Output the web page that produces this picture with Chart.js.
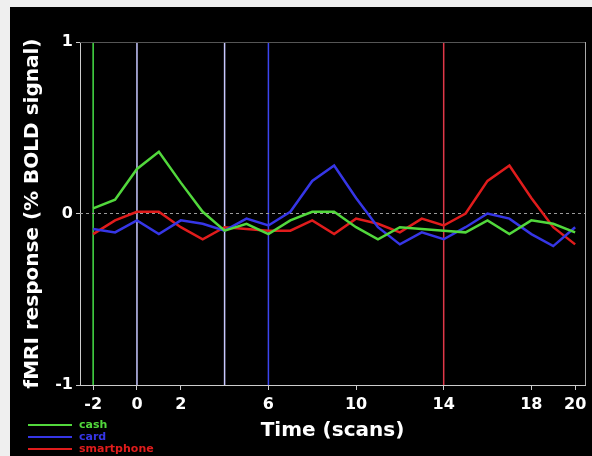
<!DOCTYPE html>
<html>
<head>
<meta charset="utf-8">
<script src="https://cdn.jsdelivr.net/npm/chart.js@4"></script>
<style>
  html, body { margin:0; padding:0; background:#efefef; }
  #wrap { position:absolute; left:10px; top:7px; width:582px; height:449px; background:#000; }
</style>
</head>
<body>
<div id="wrap"><canvas id="fmri" width="582" height="449"></canvas></div>
<script>
// time axis (scans) and responses (% BOLD signal)
const scans = [-2,-1,0,1,2,3,4,5,6,7,8,9,10,11,12,13,14,15,16,17,18,19,20];
const cash = [0.03,0.08,0.26,0.36,0.18,0.01,-0.10,-0.06,-0.12,-0.04,0.01,0.01,-0.08,-0.15,-0.08,-0.09,-0.10,-0.11,-0.04,-0.12,-0.04,-0.06,-0.11];
const card = [-0.09,-0.11,-0.04,-0.12,-0.04,-0.06,-0.10,-0.03,-0.07,0.01,0.19,0.28,0.09,-0.08,-0.18,-0.11,-0.15,-0.08,0.00,-0.03,-0.12,-0.19,-0.08];
const smartphone = [-0.12,-0.04,0.01,0.01,-0.08,-0.15,-0.08,-0.09,-0.10,-0.10,-0.04,-0.12,-0.03,-0.06,-0.11,-0.03,-0.07,0.00,0.19,0.28,0.09,-0.08,-0.18];
const xTicks = [-2,0,2,6,10,14,18,20];
const yTicks = [-1,0,1];
const onsets = [-2,0,4,6,14];

const FONT = '"DejaVu Sans", Verdana, sans-serif';
const onsetColor = ['#46e046','#c8c8ff','#c8c8ff','#3c46f0','#e03848'];

const series = [
  { label:'cash', data:cash, color:'#52d83c' },
  { label:'card', data:card, color:'#3636e6' },
  { label:'smartphone', data:smartphone, color:'#e01c1c' }
];

const datasets = series.map(s => ({
  label: s.label,
  data: scans.map((t,i) => ({ x:t, y:s.data[i] })),
  borderColor: s.color, borderWidth: 2.5, pointRadius: 0, tension: 0, order: 1
}));
onsets.forEach((t,i) => datasets.push({
  label: 'onset', data: [{x:t,y:-1},{x:t,y:1}],
  borderColor: onsetColor[i], borderWidth: 1.5, pointRadius: 0, order: 3
}));
datasets.push({
  label: 'zero', data: [{x:-2.6,y:0},{x:20.45,y:0}],
  borderColor: '#9a9a9a', borderWidth: 1, borderDash: [3,3], pointRadius: 0, order: 2
});

// frame on top/right + legend at bottom left
const extras = {
  id: 'extras',
  afterDraw(chart) {
    const {ctx, chartArea:a} = chart;
    ctx.save();
    ctx.lineWidth = 1;
    ctx.strokeStyle = '#555';
    ctx.beginPath(); ctx.moveTo(a.left, a.top + 0.5); ctx.lineTo(a.right, a.top + 0.5); ctx.stroke();
    ctx.strokeStyle = '#aaa';
    ctx.beginPath(); ctx.moveTo(a.right + 0.5, a.top); ctx.lineTo(a.right + 0.5, a.bottom); ctx.stroke();
    ctx.font = 'bold 11px ' + FONT;
    ctx.textBaseline = 'middle';
    ctx.lineWidth = 2;
    series.forEach((s,i) => {
      const y = 418 + i * 12;
      ctx.strokeStyle = s.color;
      ctx.beginPath(); ctx.moveTo(18, y); ctx.lineTo(62, y); ctx.stroke();
      ctx.fillStyle = s.color;
      ctx.fillText(s.label, 69, y);
    });
    ctx.restore();
  }
};

new Chart(document.getElementById('fmri'), {
  type: 'line',
  data: { datasets },
  plugins: [extras],
  options: {
    responsive: false, animation: false,
    layout: { padding: { top: 35, right: 7, left: 0, bottom: 0 } },
    plugins: { legend: { display:false }, tooltip: { enabled:false } },
    scales: {
      x: {
        type: 'linear', min: -2.6, max: 20.45,
        afterBuildTicks: sc => { sc.ticks = xTicks.map(v => ({ value:v })); },
        afterFit: sc => { sc.height = 71; },
        grid: { drawOnChartArea:false, drawTicks:true, tickLength:5, color:'#ccc' },
        border: { color:'#ccc' },
        ticks: { color:'#fff', padding:5, font:{ family:FONT, size:16, weight:'bold' }, maxRotation:0 },
        title: { display:true, text:'Time (scans)', color:'#fff', padding:{ top:0, bottom:13 },
                 font:{ family:FONT, size:20, weight:'bold' } }
      },
      y: {
        min: -1, max: 1,
        afterBuildTicks: sc => { sc.ticks = yTicks.map(v => ({ value:v })); },
        afterFit: sc => { sc.width = 70; },
        grid: { drawOnChartArea:false, drawTicks:true, tickLength:4, color:'#ccc' },
        border: { color:'#ccc' },
        ticks: { color:'#fff', padding:3, font:{ family:FONT, size:16, weight:'bold' } },
        title: { display:true, text:'fMRI response (% BOLD signal)', color:'#fff', padding:{ top:11, bottom:0 },
                 font:{ family:FONT, size:20, weight:'bold' } }
      }
    }
  }
});
</script>
</body>
</html>
